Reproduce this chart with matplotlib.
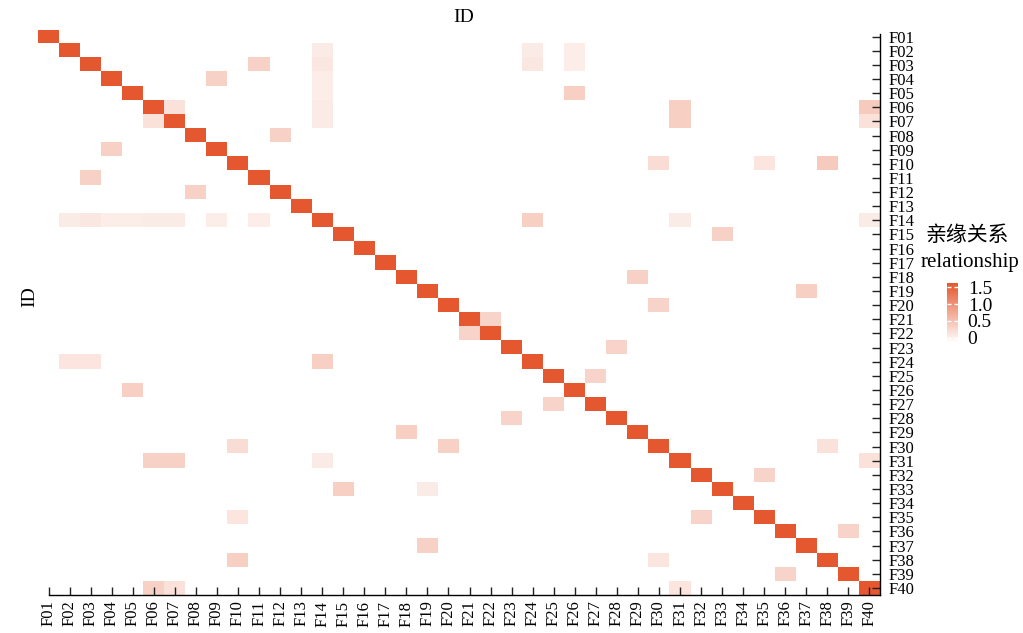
import numpy as np
import matplotlib
matplotlib.use('Agg')
import matplotlib.pyplot as plt
from matplotlib.colors import LinearSegmentedColormap, Normalize

plt.rcParams['font.family'] = ['Liberation Serif', 'Noto Sans CJK SC']

ids = ['F%02d' % i for i in range(1, 41)]
diag_value = 1.6

# off-diagonal cells: row id, column id, value
rows = ['F02', 'F03', 'F04', 'F05', 'F06', 'F07',
        'F02', 'F03', 'F02', 'F03',
        'F03', 'F04', 'F05', 'F06', 'F07', 'F06', 'F07', 'F06', 'F07',
        'F08', 'F09', 'F10', 'F10', 'F10', 'F11', 'F12',
        'F14', 'F14', 'F14', 'F14', 'F14', 'F14', 'F14', 'F14', 'F14', 'F14', 'F14',
        'F15', 'F18', 'F19', 'F20', 'F21', 'F22', 'F23',
        'F24', 'F24', 'F24', 'F25', 'F26', 'F27', 'F28', 'F29',
        'F30', 'F30', 'F30', 'F31', 'F31', 'F31', 'F31',
        'F32', 'F33', 'F33', 'F35', 'F35', 'F36', 'F37',
        'F38', 'F38', 'F39', 'F40', 'F40', 'F40']
cols = ['F14', 'F14', 'F14', 'F14', 'F14', 'F14',
        'F24', 'F24', 'F26', 'F26',
        'F11', 'F09', 'F26', 'F07', 'F06', 'F31', 'F31', 'F40', 'F40',
        'F12', 'F04', 'F30', 'F35', 'F38', 'F03', 'F08',
        'F02', 'F03', 'F04', 'F05', 'F06', 'F07', 'F09', 'F11', 'F24', 'F31', 'F40',
        'F33', 'F29', 'F37', 'F30', 'F22', 'F21', 'F28',
        'F02', 'F03', 'F14', 'F27', 'F05', 'F25', 'F23', 'F18',
        'F10', 'F20', 'F38', 'F06', 'F07', 'F14', 'F40',
        'F35', 'F15', 'F19', 'F10', 'F32', 'F39', 'F19',
        'F10', 'F30', 'F36', 'F06', 'F07', 'F31']
vals = [0.06, 0.1, 0.03, 0.03, 0.06, 0.06,
        0.06, 0.1, 0.03, 0.03,
        0.33, 0.33, 0.35, 0.15, 0.15, 0.35, 0.35, 0.4, 0.15,
        0.33, 0.33, 0.2, 0.12, 0.4, 0.33, 0.33,
        0.06, 0.1, 0.03, 0.03, 0.06, 0.06, 0.03, 0.03, 0.35, 0.06, 0.06,
        0.33, 0.33, 0.35, 0.3, 0.3, 0.3, 0.3,
        0.12, 0.12, 0.35, 0.3, 0.35, 0.3, 0.3, 0.35,
        0.2, 0.33, 0.15, 0.33, 0.33, 0.06, 0.15,
        0.3, 0.35, 0.06, 0.12, 0.3, 0.3, 0.33,
        0.35, 0.12, 0.3, 0.33, 0.15, 0.12]

n = len(ids)
mat = np.full((n, n), np.nan)
for i in range(n):
    mat[i, i] = diag_value
for r, c, v in zip(rows, cols, vals):
    mat[ids.index(r), ids.index(c)] = v

cmap = LinearSegmentedColormap.from_list('rel', ['#FFFFFF', '#E5562D'])
norm = Normalize(vmin=-0.15, vmax=1.62)

fig = plt.figure(figsize=(10.23, 6.33), dpi=100)
ax = fig.add_axes([38 / 1023, 1 - 595 / 633, 842 / 1023, 565.5 / 633])
im = ax.imshow(np.ma.masked_invalid(mat), cmap=cmap, norm=norm, aspect='auto',
               interpolation='nearest', extent=(-0.5, n - 0.5, n - 0.5, -0.5))
ax.set_xlim(-0.5, n - 0.5)
ax.set_ylim(n - 0.5, -0.5)

ax.set_xticks(range(n))
ax.set_xticklabels(ids, rotation=90, fontsize=12)
ax.set_yticks(range(n))
ax.set_yticklabels(ids, fontsize=12)
ax.yaxis.tick_right()
ax.tick_params(axis='x', direction='in', length=6, width=1, color='#222222', pad=4)
ax.tick_params(axis='y', direction='in', length=6, width=1, color='#222222', pad=6)

for s in ['top', 'left']:
    ax.spines[s].set_visible(False)
ax.spines['bottom'].set_bounds(0, n - 0.5)
ax.spines['right'].set_bounds(n - 0.5, -0.2)
ax.spines['bottom'].set_linewidth(1)
ax.spines['right'].set_linewidth(1)

fig.text(464 / 1023, 1 - 18 / 633, 'ID', ha='center', va='center', fontsize=14)
fig.text(30 / 1023, 1 - 297 / 633, 'ID', ha='center', va='center', fontsize=14, rotation=90)

# legend
cax = fig.add_axes([947 / 1023, 1 - 343 / 633, 11 / 1023, 60 / 633])
cb = fig.colorbar(im, cax=cax, ticks=[0, 0.5, 1.0, 1.5])
cb.outline.set_visible(False)
cb.ax.set_yticklabels(['0', '0.5', '1.0', '1.5'], fontsize=14)
cb.ax.tick_params(left=True, right=True, direction='in', color='white', length=3,
                  width=1, labelleft=False, labelright=True, pad=7)
fig.text(967 / 1023, 1 - 236 / 633, '亲缘关系', ha='center', va='center', fontsize=15)
fig.text(970 / 1023, 1 - 262 / 633, 'relationship', ha='center', va='center', fontsize=15)

fig.savefig('out.png', dpi=100)
